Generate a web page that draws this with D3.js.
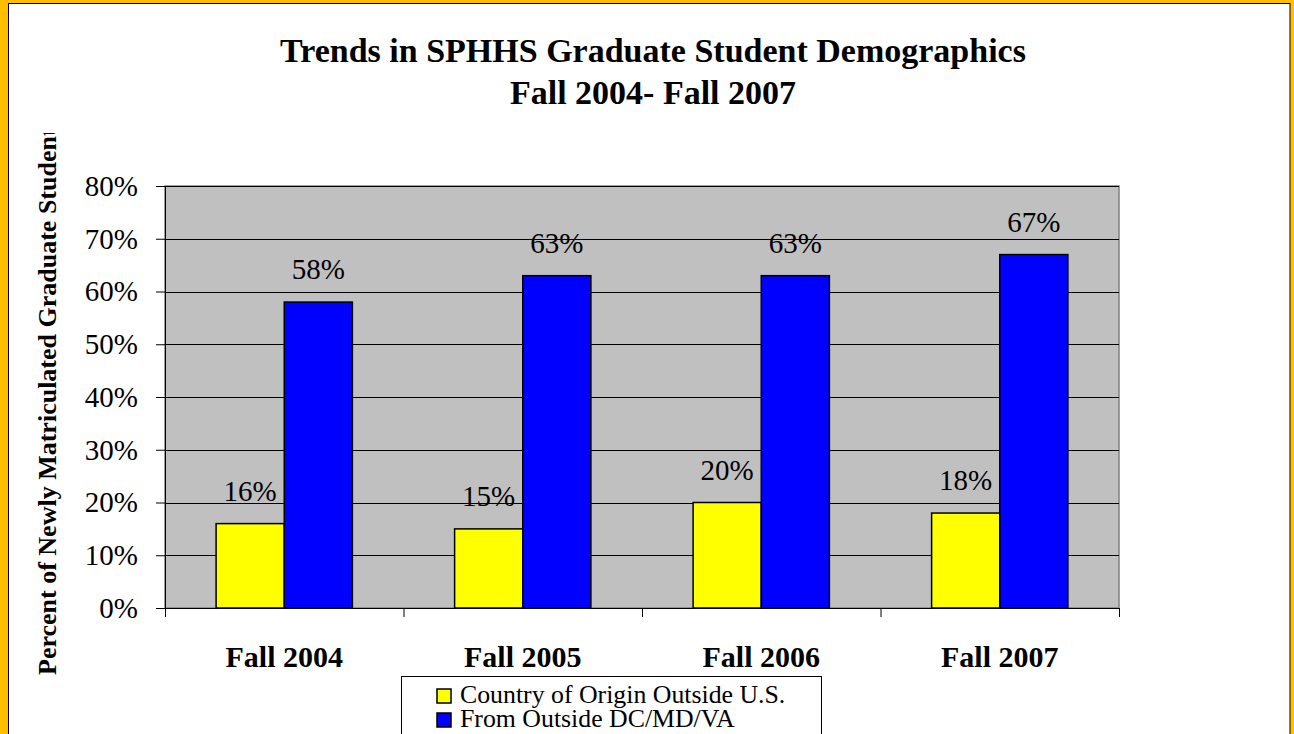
<!DOCTYPE html>
<html>
<head>
<meta charset="utf-8">
<script src="https://cdn.jsdelivr.net/npm/d3@7"></script>
<style>
  body { margin: 0; background: #fff; }
  svg { display: block; }
  text { font-family: "Liberation Serif", "Times New Roman", serif; }
</style>
</head>
<body>
<svg id="chart"></svg>
<script>
const categories = ["Fall 2004", "Fall 2005", "Fall 2006", "Fall 2007"];
const seriesNames = ["Country of Origin Outside U.S.", "From Outside DC/MD/VA"];
const outsideUS = [16, 15, 20, 18];
const outsideDMV = [58, 63, 63, 67];
const yTicks = [0, 10, 20, 30, 40, 50, 60, 70, 80];

const serif = "Liberation Serif, Times New Roman, serif";
const width = 1294;
const height = 734;
const margin = { top: 186, right: 175, bottom: 126, left: 165 };
const plotW = width - margin.left - margin.right;
const plotH = height - margin.top - margin.bottom;

const data = categories.map((c, i) => ({ cat: c, a: outsideUS[i], b: outsideDMV[i] }));
const keys = ["a", "b"];

const svg = d3.select("#chart").attr("width", width).attr("height", height);

// frame: orange border with thin black line inside
svg.append("rect").attr("width", width).attr("height", height).attr("fill", "#FFBF00");
svg.append("rect")
  .attr("x", 8.5).attr("y", 3.5)
  .attr("width", 1290 - 8.5).attr("height", height + 10)
  .attr("fill", "#fff").attr("stroke", "#000").attr("stroke-width", 1);

// title
const title = svg.append("text")
  .attr("text-anchor", "middle")
  .attr("font-family", serif)
  .attr("font-weight", "bold")
  .attr("font-size", 34);
title.append("tspan").attr("x", 653).attr("y", 62).text("Trends in SPHHS Graduate Student Demographics");
title.append("tspan").attr("x", 653).attr("y", 104).text("Fall 2004- Fall 2007");

const g = svg.append("g").attr("transform", `translate(${margin.left},${margin.top})`);

const x0 = d3.scaleBand().domain(categories).range([0, plotW]).padding(0);
const x1 = d3.scaleBand().domain(keys).range([0, x0.bandwidth()])
  .paddingInner(0).paddingOuter(0.75);
const y = d3.scaleLinear().domain([0, 80]).range([plotH, 0]);
const color = d3.scaleOrdinal().domain(keys).range(["#FFFF00", "#0000FF"]);

// plot area
g.append("rect")
  .attr("width", plotW).attr("height", plotH)
  .attr("fill", "#C0C0C0").attr("stroke", "#808080").attr("stroke-width", 1.5);

// gridlines
g.append("g")
  .selectAll("line")
  .data(yTicks.slice(1))
  .enter()
  .append("line")
  .attr("x1", 0).attr("x2", plotW)
  .attr("y1", d => Math.round(y(d)) + 0.5).attr("y2", d => Math.round(y(d)) + 0.5)
  .attr("stroke", "#000").attr("stroke-width", 1);

// bars
const groups = g.append("g")
  .selectAll("g")
  .data(data)
  .enter()
  .append("g")
  .attr("transform", d => `translate(${x0(d.cat)},0)`);

groups.selectAll("rect")
  .data(d => keys.map(k => ({ key: k, value: d[k] })))
  .enter()
  .append("rect")
  .attr("x", d => x1(d.key))
  .attr("y", d => y(d.value))
  .attr("width", x1.bandwidth())
  .attr("height", d => plotH - y(d.value))
  .attr("fill", d => color(d.key))
  .attr("stroke", "#000")
  .attr("stroke-width", 1.5);

groups.selectAll("text")
  .data(d => keys.map(k => ({ key: k, value: d[k] })))
  .enter()
  .append("text")
  .attr("x", d => x1(d.key) + x1.bandwidth() / 2)
  .attr("y", d => y(d.value) - 23)
  .attr("text-anchor", "middle")
  .attr("font-family", serif)
  .attr("font-size", 29)
  .text(d => d.value + "%");

// y axis
const yAxis = g.append("g")
  .call(d3.axisLeft(y).tickValues(yTicks).tickSize(9).tickPadding(18).tickFormat(d => d + "%"));
yAxis.attr("font-family", serif);
yAxis.select(".domain").attr("stroke", "#000");
yAxis.selectAll("line").attr("stroke", "#000");
yAxis.selectAll("text").attr("font-size", 29).attr("fill", "#000");

// x axis
const xAxis = g.append("g")
  .attr("transform", `translate(0,${plotH})`)
  .call(d3.axisBottom(x0).tickSize(0).tickPadding(38));
xAxis.attr("font-family", serif);
xAxis.select(".domain").attr("stroke", "#000");
xAxis.selectAll("text")
  .attr("font-size", 30).attr("font-weight", "bold").attr("fill", "#000");
g.append("g")
  .selectAll("line")
  .data(categories.concat(["end"]))
  .enter()
  .append("line")
  .attr("x1", (d, i) => i * x0.bandwidth() + 0.5)
  .attr("x2", (d, i) => i * x0.bandwidth() + 0.5)
  .attr("y1", plotH).attr("y2", plotH + 9)
  .attr("stroke", "#000");

// y axis title, clipped at the top like the source
svg.append("clipPath").attr("id", "yclip")
  .append("rect").attr("x", 0).attr("y", 133).attr("width", 100).attr("height", 600);
svg.append("g").attr("clip-path", "url(#yclip)")
  .append("text")
  .attr("transform", "translate(56,675) rotate(-90)")
  .attr("font-family", serif)
  .attr("font-size", 26)
  .attr("font-weight", "bold")
  .text("Percent of Newly Matriculated Graduate Students");

// legend
const legend = svg.append("g").attr("transform", "translate(401,676)");
legend.append("rect")
  .attr("x", 0.5).attr("y", 0.5).attr("width", 420).attr("height", 70)
  .attr("fill", "#fff").attr("stroke", "#000").attr("stroke-width", 1);
seriesNames.forEach((name, i) => {
  legend.append("rect")
    .attr("x", 36).attr("y", 13 + i * 24)
    .attr("width", 14).attr("height", 14)
    .attr("fill", color(keys[i])).attr("stroke", "#000").attr("stroke-width", 1.5);
  legend.append("text")
    .attr("x", 59).attr("y", 27 + i * 24)
    .attr("font-family", serif)
    .attr("font-size", 25.8)
    .text(name);
});
</script>
</body>
</html>
